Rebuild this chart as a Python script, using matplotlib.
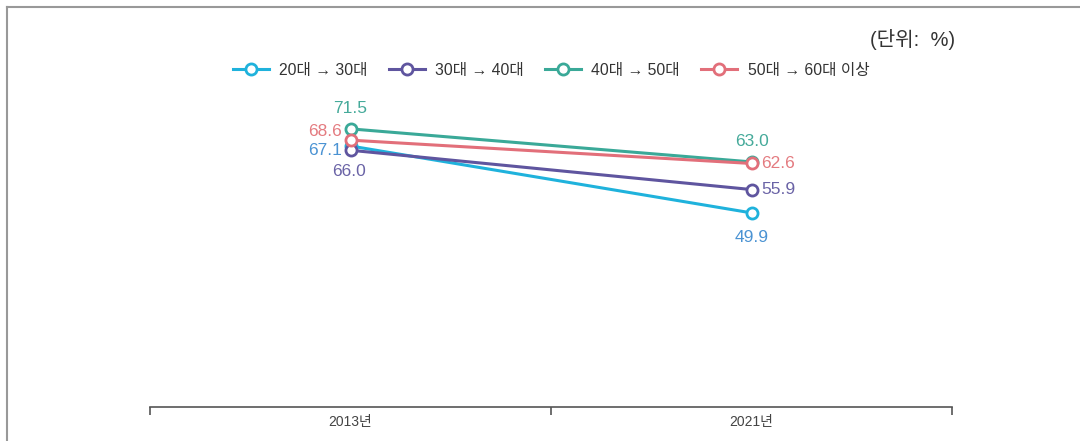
import matplotlib
matplotlib.use("Agg")
from matplotlib import pyplot as plt
from matplotlib.lines import Line2D

plt.rcParams['font.family'] = ['Liberation Sans', 'Noto Sans CJK KR', 'DejaVu Sans']

# data
years = ["2013년", "2021년"]
groups = ["20대 → 30대", "30대 → 40대", "40대 → 50대", "50대 → 60대 이상"]
v_2030 = [67.1, 49.9]
v_3040 = [66.0, 55.9]
v_4050 = [71.5, 63.0]
v_5060 = [68.6, 62.6]

line_colors = ["#1fb2dc", "#5f559f", "#3aa998", "#e26f7a"]
text_colors = ["#4b93d3", "#6a63a6", "#45aa9a", "#e47b80"]

# label offsets (points) for each point: (2013, 2021)
offsets = [
    [((-6, -3), "right", "center"), ((0, -12), "center", "top")],
    [((-1, -10), "center", "top"), ((7, 0), "left", "center")],
    [((0, 9), "center", "bottom"), ((0, 9), "center", "bottom")],
    [((-6, 6.5), "right", "center"), ((7, 0), "left", "center")],
]
series = [v_2030, v_3040, v_4050, v_5060]

fig = plt.figure(figsize=(10.8, 4.41), dpi=100)
ax = fig.add_axes([150/1080, 1-407/441, 802/1080, 389/441])

xs = [0.5, 1.5]
handles = []
for i in range(len(series)):
    h, = ax.plot(xs, series[i], color=line_colors[i], lw=2.2, marker="o",
                 markersize=8, markerfacecolor="white", markeredgewidth=2,
                 markeredgecolor=line_colors[i], label=groups[i], zorder=3+i)
    handles.append(h)
    for j in range(2):
        off, ha, va = offsets[i][j]
        ax.annotate("%.1f" % series[i][j], (xs[j], series[i][j]), xytext=off,
                    textcoords="offset points", ha=ha, va=va, fontsize=12.5,
                    color=text_colors[i])

ax.set_xlim(0, 2)
ax.set_ylim(0, 100)
for s in ["top", "right", "left"]:
    ax.spines[s].set_visible(False)
ax.spines["bottom"].set_color("#555555")
ax.spines["bottom"].set_linewidth(1.2)
ax.set_yticks([])
ax.set_xticks(xs)
ax.set_xticklabels(years, fontsize=10, color="#444444")
ax.tick_params(axis="x", which="major", length=0, pad=6)
ax.set_xticks([0, 1, 2], minor=True)
ax.tick_params(axis="x", which="minor", length=6, width=1.2, color="#555555", direction="out")

fig.legend(handles=handles, loc="center", bbox_to_anchor=(551/1080, 1-70/441),
           ncol=4, frameon=False, fontsize=11.3, handlelength=2.3,
           columnspacing=1.35, handletextpad=0.65, labelcolor="#333333")

fig.text(955/1080, 1-40/441, "(단위:  %)", ha="right", va="center",
         fontsize=14.5, color="#333333")

# frame border
fig.add_artist(Line2D([7/1080, 1], [1-7/441, 1-7/441], color="#999999", lw=1.5))
fig.add_artist(Line2D([7/1080, 7/1080], [0, 1-7/441], color="#999999", lw=1.5))

plt.savefig("out.png", dpi=100)
